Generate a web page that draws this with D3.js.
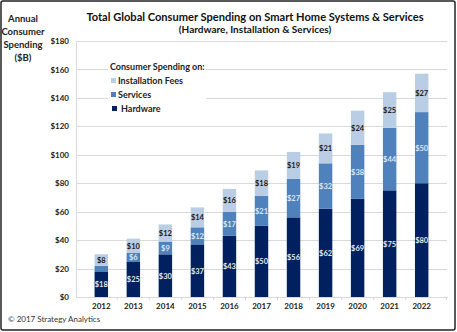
<!DOCTYPE html>
<html>
<head>
<meta charset="utf-8">
<script src="https://cdn.jsdelivr.net/npm/d3@7"></script>
<style>
  body { margin: 0; background: #fff; }
  svg { display: block; font-family: Lato, "Open Sans", sans-serif; }
</style>
</head>
<body>
<div id="chart"></div>
<script>
// chart data
const years = ["2012", "2013", "2014", "2015", "2016", "2017", "2018", "2019", "2020", "2021", "2022"];
const hardware = [18, 25, 30, 37, 43, 50, 56, 62, 69, 75, 80];
const services = [4, 6, 9, 12, 17, 21, 27, 32, 38, 44, 50];
const installation = [8, 10, 12, 14, 16, 18, 19, 21, 24, 25, 27];
const yTicks = [0, 20, 40, 60, 80, 100, 120, 140, 160, 180];

const W = 457, H = 332;
const plotLeft = 76, plotRight = 447, plotTop = 41, plotBottom = 297;

const svg = d3.select("#chart").append("svg")
    .attr("width", W)
    .attr("height", H);

// frame
svg.append("rect")
    .attr("x", 1).attr("y", 1)
    .attr("width", W - 3).attr("height", H - 3)
    .attr("fill", "#fff")
    .attr("stroke", "#222")
    .attr("stroke-width", 1.5)
    .attr("rx", 2);

const x = d3.scaleBand().domain(years).range([plotLeft, plotRight]).padding(0.58);
const y = d3.scaleLinear().domain([0, 180]).range([plotBottom, plotTop]);

// gridlines
svg.append("g")
    .selectAll("line")
    .data(yTicks.filter(d => d > 0))
    .enter().append("line")
    .attr("x1", plotLeft).attr("x2", plotRight)
    .attr("y1", d => Math.round(y(d)) + 0.5)
    .attr("y2", d => Math.round(y(d)) + 0.5)
    .attr("stroke", "#d9d9d9");

// y axis
const yAxis = svg.append("g")
    .attr("transform", "translate(" + plotLeft + ",0)")
    .call(d3.axisLeft(y).tickValues(yTicks).tickFormat(d => "$" + d).tickSize(0).tickPadding(7));
yAxis.select(".domain").attr("stroke", "#d9d9d9");
yAxis.selectAll("text")
    .attr("fill", "#222")
    .style("font-size", "8px")
    .style("font-weight", "bold")
    .style("font-family", "Lato, sans-serif");

// x axis
const xAxis = svg.append("g")
    .attr("transform", "translate(0," + plotBottom + ")")
    .call(d3.axisBottom(x).tickSize(0).tickPadding(6));
xAxis.select(".domain").attr("stroke", "#d9d9d9");
xAxis.selectAll("text")
    .attr("fill", "#222")
    .style("font-size", "8px")
    .style("font-weight", "bold")
    .style("font-family", "Lato, sans-serif");
// small separator ticks between categories
const sepX = years.slice(1).map(d => x(d) - x.step() * x.paddingInner() / 2).concat([plotRight - 0.5]);
xAxis.selectAll(".sep")
    .data(sepX)
    .enter().append("line")
    .attr("x1", d => d).attr("x2", d => d)
    .attr("y1", 0).attr("y2", 3)
    .attr("stroke", "#d9d9d9");

// stacked bars
const rows = years.map((yr, i) => ({ year: yr, hardware: hardware[i], services: services[i], installation: installation[i] }));
const keys = ["hardware", "services", "installation"];
const colors = { hardware: "#002060", services: "#4f81bd", installation: "#b9cde5" };
const labelColors = { hardware: "#e8e8e8", services: "#dde6f2", installation: "#1a1a1a" };
const stack = d3.stack().keys(keys)(rows);

const layers = svg.append("g").selectAll("g")
    .data(stack)
    .enter().append("g")
    .attr("fill", d => colors[d.key]);

layers.selectAll("rect")
    .data(d => d)
    .enter().append("rect")
    .attr("x", d => x(d.data.year))
    .attr("y", d => y(d[1]))
    .attr("width", x.bandwidth())
    .attr("height", d => y(d[0]) - y(d[1]));

// value labels (the tiny 2012 services segment carries none)
stack.forEach(layer => {
    svg.append("g").selectAll("text")
        .data(layer.filter(d => d[1] - d[0] >= 5))
        .enter().append("text")
        .attr("x", d => x(d.data.year) + x.bandwidth() / 2)
        .attr("y", d => (y(d[0]) + y(d[1])) / 2 + 3)
        .attr("text-anchor", "middle")
        .attr("fill", labelColors[layer.key])
        .style("font-size", "7.5px")
        .style("font-weight", "bold")
        .text(d => "$" + (d[1] - d[0]));
});

// legend with white background
const legend = svg.append("g");
legend.append("rect")
    .attr("x", 108).attr("y", 60)
    .attr("width", 98).attr("height", 58)
    .attr("fill", "#fff");
legend.append("text")
    .attr("x", 110).attr("y", 70)
    .attr("fill", "#222")
    .style("font-size", "9px")
    .style("font-weight", "bold")
    .text("Consumer Spending on:");
const legendItems = [
    { key: "installation", label: "Installation Fees", y: 81, sx: 111, tx: 118 },
    { key: "services", label: "Services", y: 95, sx: 111, tx: 118 },
    { key: "hardware", label: "Hardware", y: 109, sx: 112, tx: 121 }
];
legendItems.forEach(it => {
    legend.append("rect")
        .attr("x", it.sx).attr("y", it.y - 3)
        .attr("width", 5).attr("height", 5)
        .attr("fill", colors[it.key]);
    legend.append("text")
        .attr("x", it.tx).attr("y", it.y + 3)
        .attr("fill", "#222")
        .style("font-size", "9px")
        .style("font-weight", "bold")
        .text(it.label);
});

// titles
svg.append("text")
    .attr("x", 255).attr("y", 21)
    .attr("text-anchor", "middle")
    .attr("fill", "#111")
    .style("font-size", "11.1px")
    .style("font-weight", "bold")
    .text("Total Global Consumer Spending on Smart Home Systems & Services");
svg.append("text")
    .attr("x", 255).attr("y", 33)
    .attr("text-anchor", "middle")
    .attr("fill", "#111")
    .style("font-size", "10px")
    .style("font-weight", "bold")
    .text("(Hardware, Installation & Services)");

// y-axis title
const yTitle = ["Annual", "Consumer", "Spending", "($B)"];
svg.append("g").selectAll("text")
    .data(yTitle)
    .enter().append("text")
    .attr("x", 23)
    .attr("y", (d, i) => 22 + i * 13)
    .attr("text-anchor", "middle")
    .attr("fill", "#222")
    .style("font-size", "9.5px")
    .style("font-weight", "bold")
    .text(d => d);

// footer
svg.append("text")
    .attr("x", 8).attr("y", 322)
    .attr("fill", "#333")
    .style("font-size", "8px")
    .text("\u00a9 2017 Strategy Analytics");
</script>
</body>
</html>
